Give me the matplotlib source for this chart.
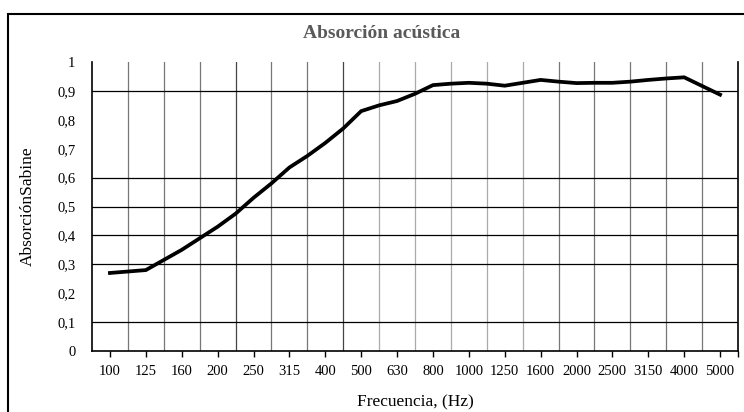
import matplotlib
matplotlib.use("Agg")
import matplotlib.pyplot as plt
from matplotlib.patches import Rectangle
import numpy as np

# Third-octave band labels (shown on every other category)
freq_labels = ["100", "125", "160", "200", "250", "315", "400", "500", "630",
               "800", "1000", "1250", "1600", "2000", "2500", "3150", "4000", "5000"]

# Absorption read at each category (labelled bands plus the points between them)
absorption = [0.27, 0.275, 0.28, 0.315, 0.35, 0.39, 0.43, 0.475, 0.53, 0.58,
              0.635, 0.675, 0.72, 0.77, 0.83, 0.85, 0.865, 0.89, 0.92, 0.925,
              0.928, 0.925, 0.918, 0.928, 0.938, 0.932, 0.927, 0.928, 0.928,
              0.932, 0.938, 0.943, 0.947, 0.917, 0.887]

y_ticks = [0, 0.1, 0.2, 0.3, 0.4, 0.5, 0.6, 0.7, 0.8, 0.9, 1]
h_grid = [0.1, 0.3, 0.4, 0.5, 0.6, 0.9]

plt.rcParams['font.family'] = ['Liberation Serif', 'DejaVu Serif']

fig = plt.figure(figsize=(7.44, 4.12), dpi=100)
ax = fig.add_axes([92 / 744, 1 - 351 / 412, (738 - 92) / 744, (351 - 62) / 412])

x = np.arange(len(absorption))
n = len(absorption)

# vertical grid between labelled bands
v_colors = {7: '#444444', 13: '#444444', 15: '#aaaaaa', 17: '#aaaaaa',
            19: '#aaaaaa', 21: '#aaaaaa', 23: '#aaaaaa'}
for i in range(1, n, 2):
    ax.axvline(i, color=v_colors.get(i, '#777777'), lw=0.9, zorder=1)
for v in h_grid:
    ax.axhline(v, color='black', lw=0.9, zorder=1)

ax.plot(x, absorption, color='black', lw=2.7, zorder=3, solid_joinstyle='miter')

ax.set_xlim(-1, n)
ax.set_ylim(0, 1)
ax.set_xticks(x[::2])
ax.set_xticklabels(freq_labels)
ax.set_xticks([n], minor=True)
ax.set_yticks(y_ticks)
ax.set_yticklabels([('%g' % t).replace('.', ',') for t in y_ticks])

ax.tick_params(axis='x', which='both', length=4, width=1, pad=6, labelsize=10.5, colors='black')
ax.tick_params(axis='y', length=0, pad=12, labelsize=10.5)

ax.spines['top'].set_visible(False)
for s in ['left', 'right', 'bottom']:
    ax.spines[s].set_linewidth(1.2)
    ax.spines[s].set_color('black')

ax.set_xlabel('Frecuencia, (Hz)', fontsize=12.5, labelpad=12)
ax.set_ylabel('AbsorciónSabine', fontsize=12.5, labelpad=15)

fig.text(382 / 744, 1 - 33 / 412, 'Absorción acústica', ha='center', va='center',
         fontsize=14, fontweight='bold', color='#595959')

# outer chart frame (cut at right and bottom edge)
fig.patches.append(Rectangle((8 / 744, -0.1), 1.1, 1 - 14 / 412 + 0.1,
                             transform=fig.transFigure, fill=False,
                             edgecolor='black', lw=1.5))

fig.savefig('out.png', dpi=100)
